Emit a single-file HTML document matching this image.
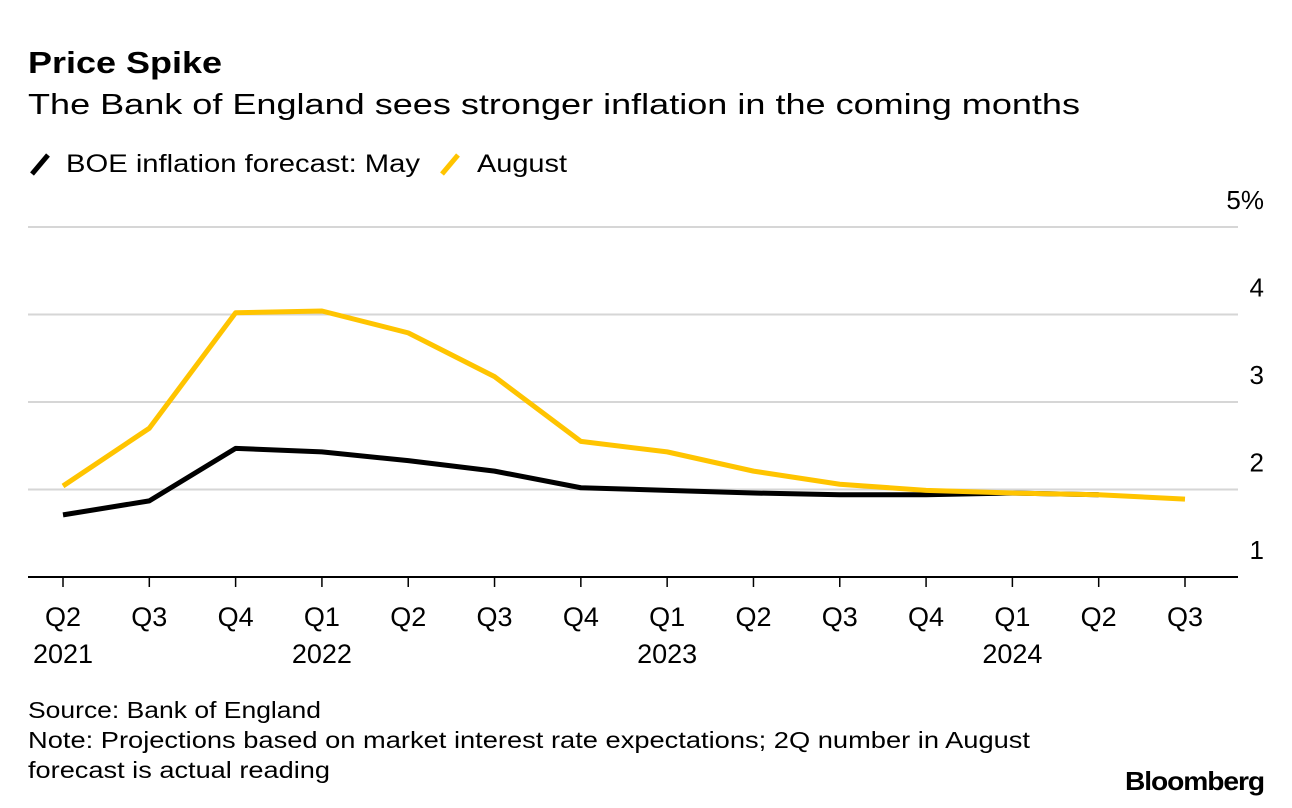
<!DOCTYPE html>
<html><head><meta charset="utf-8"><style>
body{margin:0;background:#fff;width:1292px;height:808px;overflow:hidden;font-family:"Liberation Sans",sans-serif;color:#000}
</style></head><body>
<svg width="1292" height="808" style="position:absolute;left:0;top:0;font-family:'Liberation Sans',sans-serif">
<text x="28" y="73" font-size="31" font-weight="bold" textLength="194" lengthAdjust="spacingAndGlyphs">Price Spike</text>
<text x="28" y="114" font-size="29" textLength="1052" lengthAdjust="spacingAndGlyphs">The Bank of England sees stronger inflation in the coming months</text>
<g>
<line x1="32" y1="174" x2="48" y2="155" stroke="#000" stroke-width="5"/>
<text x="66" y="172" font-size="25" textLength="354" lengthAdjust="spacingAndGlyphs">BOE inflation forecast: May</text>
<line x1="442" y1="174" x2="458" y2="155" stroke="#ffc400" stroke-width="5"/>
<text x="477" y="172" font-size="25" textLength="90" lengthAdjust="spacingAndGlyphs">August</text>
</g>
<g id="grid"></g><g id="xaxis"></g><g id="series"></g>
<text x="28" y="718" font-size="23" textLength="293" lengthAdjust="spacingAndGlyphs">Source: Bank of England</text>
<text x="28" y="748" font-size="23" textLength="1002" lengthAdjust="spacingAndGlyphs">Note: Projections based on market interest rate expectations; 2Q number in August</text>
<text x="28" y="778" font-size="23" textLength="302" lengthAdjust="spacingAndGlyphs">forecast is actual reading</text>
<text x="1264" y="790" font-size="26" font-weight="bold" text-anchor="end" letter-spacing="-1" textLength="139" lengthAdjust="spacingAndGlyphs">Bloomberg</text>
</svg>
<script>
const quarters=["Q2","Q3","Q4","Q1","Q2","Q3","Q4","Q1","Q2","Q3","Q4","Q1","Q2","Q3"];
const years=["2021","","","2022","","","","2023","","","","2024","",""];
const mayValues=[1.71,1.87,2.47,2.43,2.33,2.21,2.02,1.99,1.96,1.94,1.94,1.96,1.94];
const augustValues=[2.04,2.70,4.02,4.04,3.79,3.29,2.55,2.43,2.21,2.06,1.99,1.96,1.94,1.89];
const yTicks=[1,2,3,4,5];
const NS="http://www.w3.org/2000/svg";
const x=i=>63+i*(1185-63)/13;
const y=v=>577-(v-1)*87.5;
function mk(tag,attrs,parent){const e=document.createElementNS(NS,tag);for(const k in attrs)e.setAttribute(k,attrs[k]);document.getElementById(parent).appendChild(e);return e;}
yTicks.forEach(t=>{
  if(t>1){const l=mk('line',{x1:28,x2:1238,y1:y(t),y2:y(t),stroke:'#d6d6d6','stroke-width':2},'grid');
  
  }
  const tx=mk('text',{x:1264,y:y(t)-18,'font-size':26,'text-anchor':'end'},'grid');
  tx.textContent=t===5?'5%':String(t);
  
  
});
const base=mk('line',{x1:28,x2:1238,y1:577,y2:577,stroke:'#000','stroke-width':2},'xaxis');


quarters.forEach((q,i)=>{
  const tk=mk('line',{x1:x(i),x2:x(i),y1:577,y2:587,stroke:'#000','stroke-width':1.5},'xaxis');
  
  
  const t=mk('text',{x:x(i),y:626,'font-size':27,'text-anchor':'middle'},'xaxis');
  t.textContent=q;
  
  
  if(years[i]){const yt=mk('text',{x:x(i),y:663,'font-size':27,'text-anchor':'middle'},'xaxis');
  yt.textContent=years[i];
  
  }
});
function line(vals,color,name){
  const d=vals.map((v,i)=>(i?'L':'M')+x(i)+','+y(v)).join(' ');
  const p=mk('path',{d:d,fill:'none',stroke:color,'stroke-width':5,'stroke-linejoin':'round'},'series');
  
  
}
line(mayValues,'#000','may-forecast-line');
line(augustValues,'#ffc400','august-forecast-line');
</script>
</body></html>
